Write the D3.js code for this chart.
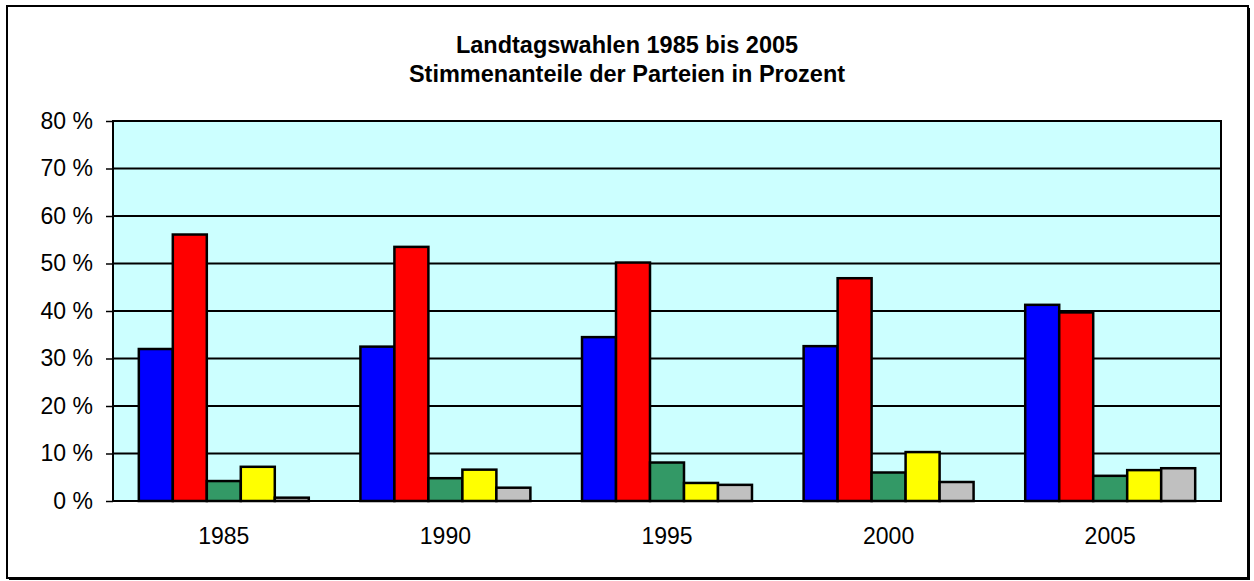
<!DOCTYPE html>
<html>
<head>
<meta charset="utf-8">
<script src="https://cdn.jsdelivr.net/npm/d3@7"></script>
<style>
    body { margin: 0; background: #fff; }
    svg { display: block; font-family: "Liberation Sans", Arial, sans-serif; }
</style>
</head>
<body>
<div id="chart"></div>
<script>
const years = ["1985", "1990", "1995", "2000", "2005"];
const parties = ["blau", "rot", "gruen", "gelb", "grau"];
const partyColors = ["#0000FF", "#FF0000", "#339966", "#FFFF00", "#C0C0C0"];
const blau = [32.0, 32.5, 34.5, 32.6, 41.3];
const rot = [56.1, 53.5, 50.2, 46.9, 39.7];
const gruen = [4.2, 4.8, 8.1, 6.0, 5.3];
const gelb = [7.2, 6.6, 3.8, 10.3, 6.5];
const grau = [0.7, 2.8, 3.4, 4.0, 6.9];
const yTicks = [0, 10, 20, 30, 40, 50, 60, 70, 80];
const titleLines = ["Landtagswahlen 1985 bis 2005", "Stimmenanteile der Parteien in Prozent"];

const series = [blau, rot, gruen, gelb, grau];

const width = 1254, height = 581;
const plot = {left: 113, top: 121, right: 1221, bottom: 501};
const fontSize = '23px';

const svg = d3.select('#chart')
    .append('svg')
    .attr('width', width)
    .attr('height', height);

// outer frame with shadow
svg.append('rect')
    .attr('x', 9).attr('y', 8)
    .attr('width', 1241).attr('height', 572)
    .attr('fill', '#000');
svg.append('rect')
    .attr('x', 7).attr('y', 6)
    .attr('width', 1241).attr('height', 572)
    .attr('fill', '#fff')
    .attr('stroke', '#000')
    .attr('stroke-width', 2);

const x0 = d3.scaleBand()
    .domain(years)
    .range([plot.left, plot.right])
    .paddingInner(0.233)
    .paddingOuter(0.1165);

const x1 = d3.scaleBand()
    .domain(parties)
    .range([0, x0.bandwidth()]);

const y = d3.scaleLinear()
    .domain([0, 80])
    .range([plot.bottom, plot.top]);

svg.append('rect')
    .attr('x', plot.left).attr('y', plot.top)
    .attr('width', plot.right - plot.left)
    .attr('height', plot.bottom - plot.top)
    .attr('fill', '#CCFFFF');

// gridlines
svg.append('g')
    .selectAll('line')
    .data(yTicks.filter(t => t > 0))
    .join('line')
    .attr('x1', plot.left).attr('x2', plot.right)
    .attr('y1', d => y(d)).attr('y2', d => y(d))
    .attr('stroke', '#000')
    .attr('stroke-width', 2);

// bars
const groups = svg.append('g')
    .selectAll('g')
    .data(years)
    .join('g')
    .attr('transform', d => `translate(${x0(d)},0)`);

groups.selectAll('rect')
    .data((d, i) => parties.map((p, j) => ({party: p, value: series[j][i], color: partyColors[j]})))
    .join('rect')
    .attr('x', d => x1(d.party))
    .attr('y', d => y(d.value))
    .attr('width', x1.bandwidth())
    .attr('height', d => y(0) - y(d.value))
    .attr('fill', d => d.color)
    .attr('stroke', '#000')
    .attr('stroke-width', 2.5);

// plot border
svg.append('rect')
    .attr('x', plot.left).attr('y', plot.top)
    .attr('width', plot.right - plot.left)
    .attr('height', plot.bottom - plot.top)
    .attr('fill', 'none')
    .attr('stroke', '#000')
    .attr('stroke-width', 2);

// y axis
const yAxis = svg.append('g')
    .attr('transform', `translate(${plot.left},0)`)
    .call(d3.axisLeft(y).tickValues(yTicks).tickSize(7).tickPadding(13).tickFormat(d => d + ' %'));
yAxis.select('.domain').remove();
yAxis.selectAll('line').attr('stroke', '#000').attr('stroke-width', 1.5);
yAxis.selectAll('text')
    .attr('font-size', fontSize)
    .attr('font-family', '"Liberation Sans", Arial, sans-serif')
    .attr('fill', '#000');

// x labels
const xAxis = svg.append('g')
    .attr('transform', `translate(0,${plot.bottom})`)
    .call(d3.axisBottom(x0).tickSize(0).tickPadding(27));
xAxis.select('.domain').remove();
xAxis.selectAll('text')
    .attr('font-size', fontSize)
    .attr('font-family', '"Liberation Sans", Arial, sans-serif')
    .attr('fill', '#000');

// title
svg.append('g')
    .selectAll('text')
    .data(titleLines)
    .join('text')
    .attr('x', 627)
    .attr('y', (d, i) => 53 + i * 29)
    .attr('text-anchor', 'middle')
    .attr('font-size', '23.5px')
    .attr('font-weight', 'bold')
    .text(d => d);
</script>
</body>
</html>
